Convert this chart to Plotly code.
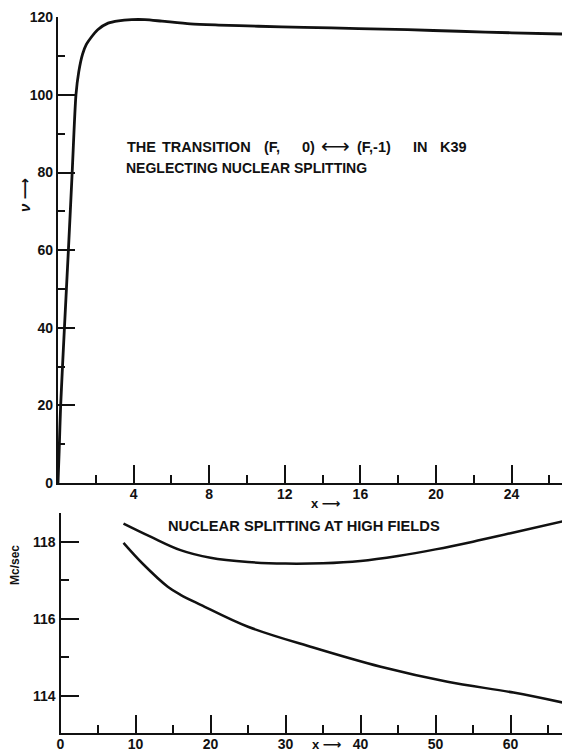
import plotly.graph_objects as go

# ---------------- data ----------------
# upper panel: frequency nu (Mc/sec) vs x, neglecting nuclear splitting
top_x = [0, 0.06, 0.14, 0.34, 0.55, 0.75, 0.95, 1.1, 1.3, 1.5, 1.75, 2.1, 2.65, 3.2,
         3.9, 4.6, 5.5, 7.0, 8.5, 10.6, 13.0, 15.9, 18.5, 21.2, 24.0, 26.7]
top_y = [0, 8, 20, 40, 60, 80, 100, 106, 110.5, 113, 114.8, 116.8, 118.5, 119.1,
         119.4, 119.4, 119.0, 118.3, 118.0, 117.7, 117.4, 117.1, 116.8, 116.4, 116.0, 115.7]

# lower panel: nuclear splitting at high fields
upper_x = [8.4, 12, 16, 20, 25, 30, 35, 40, 45, 50, 55, 60, 67]
upper_y = [118.47, 118.13, 117.78, 117.58, 117.47, 117.43, 117.44, 117.5, 117.63, 117.8, 118.0, 118.22, 118.53]
lower_x = [8.4, 11, 14.3, 16, 18.7, 25, 33.7, 42.7, 51.6, 60.4, 67]
lower_y = [117.97, 117.42, 116.83, 116.62, 116.36, 115.79, 115.25, 114.75, 114.36, 114.08, 113.82]

top_xticks = [4, 8, 12, 16, 20, 24]
top_xminor = [2, 6, 10, 14, 18, 22, 26]
top_yticks = [0, 20, 40, 60, 80, 100, 120]
top_yminor = [10, 30, 50, 70, 90, 110]
bot_xticks = [0, 10, 20, 30, 40, 50, 60]
bot_xminor = [5, 15, 25, 35, 45, 55, 65]
bot_yticks = [114, 116, 118]
bot_yminor = [115, 117]

# title pieces of the upper panel (text, left edge in px)
title_line1 = [("THE", 125), ("TRANSITION", 160), ("(F,", 262), ("0)", 300),
               ("(F,-1)", 355), ("IN", 411), ("K39", 438)]
title_arrow = "⟷"
title_line2 = "NEGLECTING NUCLEAR SPLITTING"
lower_title = "NUCLEAR SPLITTING AT HIGH FIELDS"

# ---------------- figure ----------------
W, H = 562, 753
INK = "#111111"
FONT = "Liberation Sans, DejaVu Sans, sans-serif"

def px(x):
    return x / W

def py(y):
    return 1 - y / H

fig = go.Figure()
fig.add_trace(go.Scatter(x=top_x, y=top_y, mode="lines", xaxis="x", yaxis="y",
                         line=dict(color=INK, width=2.8, shape="spline", smoothing=0.7),
                         showlegend=False, hoverinfo="skip"))
fig.add_trace(go.Scatter(x=upper_x, y=upper_y, mode="lines", xaxis="x2", yaxis="y2",
                         line=dict(color=INK, width=2.5, shape="spline", smoothing=1),
                         showlegend=False, hoverinfo="skip"))
fig.add_trace(go.Scatter(x=lower_x, y=lower_y, mode="lines", xaxis="x2", yaxis="y2",
                         line=dict(color=INK, width=2.5, shape="spline", smoothing=1),
                         showlegend=False, hoverinfo="skip"))

tickfont = dict(family=FONT, size=14, color=INK, weight="bold")

def axis_common(major_len, minor_vals, minor_len=8):
    return dict(showline=True, linecolor=INK, linewidth=2.3, showgrid=False, zeroline=False,
                ticks="inside", ticklen=major_len, tickwidth=1.8, tickcolor=INK,
                tickfont=tickfont, tickmode="array", automargin=False,
                minor=dict(tickmode="array", tickvals=minor_vals, ticks="inside",
                           ticklen=minor_len, tickwidth=1.6, tickcolor=INK, showgrid=False))

top_x0 = 58
top_x_end = (W - top_x0) / 18.9
bot_x0 = 60.5
bot_x_end = (W - bot_x0) / 7.5

fig.update_layout(
    width=W, height=H,
    margin=dict(l=0, r=0, t=0, b=0),
    paper_bgcolor="white", plot_bgcolor="rgba(0,0,0,0)",
    xaxis=dict(domain=[px(top_x0), 1], range=[0, top_x_end], anchor="y",
               tickvals=top_xticks, ticklabelstandoff=-3, **axis_common(18, top_xminor)),
    yaxis=dict(domain=[py(483), py(17.3)], range=[0, 120], anchor="x",
               tickvals=top_yticks, **axis_common(17, top_yminor, 7)),
    xaxis2=dict(domain=[px(bot_x0), 1], range=[0, bot_x_end], anchor="y2",
                tickvals=bot_xticks, ticklabelstandoff=-3, **axis_common(18, bot_xminor)),
    yaxis2=dict(domain=[py(733), py(512.8)], range=[113.03, 118.75], anchor="x2",
                tickvals=bot_yticks, **axis_common(18, bot_yminor)),
)

textfont = dict(family=FONT, size=14.5, color=INK, weight="bold")
ann = []
for txt, left in title_line1:
    ann.append(dict(text=txt, x=px(left), y=py(147), xanchor="left", yanchor="middle"))
ann += [
    dict(text=title_arrow, x=px(335), y=py(146), xanchor="center", yanchor="middle",
         font=dict(family="DejaVu Sans", size=20, color=INK)),
    dict(text=title_line2, x=px(124), y=py(168), xanchor="left", yanchor="middle",
         font=dict(family=FONT, size=14, color=INK, weight="bold")),
    dict(text=lower_title, x=px(166), y=py(526), xanchor="left", yanchor="middle",
         font=dict(family=FONT, size=14.7, color=INK, weight="bold")),
    dict(text="x ⟶", x=px(325), y=py(504), xanchor="center", yanchor="middle",
         font=dict(family=FONT, size=13, color=INK, weight="bold")),
    dict(text="x ⟶", x=px(326), y=py(744), xanchor="center", yanchor="middle",
         font=dict(family=FONT, size=13, color=INK, weight="bold")),
    dict(text="<i>ν</i> ⟶", x=px(24), y=py(195), xanchor="center", yanchor="middle",
         textangle=-90, font=dict(family=FONT, size=15, color=INK, weight="bold")),
    dict(text="Mc/sec", x=px(15), y=py(565), xanchor="center", yanchor="middle",
         textangle=-90, font=dict(family=FONT, size=12, color=INK, weight="bold")),
]
for a in ann:
    a.setdefault("font", textfont)
    a.update(xref="paper", yref="paper", showarrow=False)
    fig.add_annotation(**a)

fig.write_html(
    "out.html",
    config={"displayModeBar": False},
    post_script="document.body.style.margin='0';document.body.style.overflow='hidden';",
)
